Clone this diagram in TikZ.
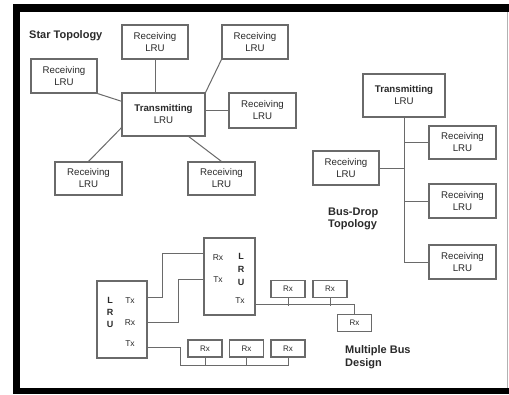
\documentclass[tikz,border=0pt]{standalone}
\usepackage{fontspec}
\setmainfont{Liberation Sans}
\usetikzlibrary{calc}
\definecolor{linegray}{HTML}{6A6A6A}
\definecolor{txtgray}{HTML}{2A2A2A}
\begin{document}
\begin{tikzpicture}[x=1pt,y=-1pt,
  box/.style={draw=linegray,line width=1.1pt,inner sep=0pt,align=center,text=txtgray,font=\fontsize{9.7}{12}\selectfont},
  rbox/.style={box,minimum width=66pt,minimum height=34pt},
  rxbox/.style={box,minimum width=34pt,minimum height=17pt,font=\fontsize{8}{9}\selectfont},
  lrubox/.style={draw=linegray,line width=1.1pt,inner sep=0pt},
  wire/.style={draw=linegray,line width=1pt},
  title/.style={font=\bfseries\fontsize{11}{12.5}\selectfont,text=txtgray,inner sep=0pt,align=left},
  lbl/.style={font=\fontsize{8.5}{9}\selectfont,text=txtgray,inner sep=0pt},
  lbold/.style={font=\bfseries\fontsize{9}{9}\selectfont,text=txtgray,inner sep=0pt}]
\useasboundingbox (0,0) rectangle (509,394);
% frame
\fill[white] (0,0) rectangle (509,394);
\fill[black] (13,4) rectangle (509,12);
\fill[black] (13,4) rectangle (20,394);
\fill[black] (13,388) rectangle (509,394);
\draw[gray!60,line width=1pt] (507,12) -- (507,388);

% ---------------- Star topology
\node[title,anchor=west] (st) at (29,36) {Star Topology};
\node[box,minimum width=83pt,minimum height=43pt] (tx) at (163.5,114.5) {\textbf{Transmitting}\\LRU};
\node[rbox] (r1) at (155,42) {Receiving\\LRU};
\node[rbox] (r2) at (255,42) {Receiving\\LRU};
\node[rbox] (r3) at (64,76) {Receiving\\LRU};
\node[rbox,minimum width=67pt,minimum height=35pt] (r4) at (262.5,110.5) {Receiving\\LRU};
\node[rbox,minimum width=67pt,minimum height=33pt] (r5) at (88.5,178.5) {Receiving\\LRU};
\node[rbox,minimum width=67pt,minimum height=33pt] (r6) at (221.5,178.5) {Receiving\\LRU};
\draw[wire] (r1.south) -- (r1.south |- tx.north);
\draw[wire] (r2.south west) -- (tx.north east);
\draw[wire] (r3.south east) -- ($(tx.north west)!0.2!(tx.south west)$);
\draw[wire] (r4.west) -- (tx.east |- r4.west);
\draw[wire] ($(tx.north west)!0.8!(tx.south west)$) -- (r5.north);
\draw[wire] ($(tx.south west)!0.8!(tx.south east)$) -- (r6.north);

% ---------------- Bus-drop topology
\node[box,minimum width=82pt,minimum height=43pt] (btx) at (404,95.5) {\textbf{Transmitting}\\LRU};
\node[rbox,minimum width=67pt,minimum height=33pt] (b1) at (462.5,142.5) {Receiving\\LRU};
\node[rbox] (b2) at (346,168) {Receiving\\LRU};
\node[rbox,minimum width=67pt] (b3) at (462.5,201) {Receiving\\LRU};
\node[rbox,minimum width=67pt] (b4) at (462.5,262) {Receiving\\LRU};
\draw[wire] (btx.south) -- (btx.south |- b4.west) -- (b4.west);
\draw[wire] (b1.west) -- (btx.south |- b1.west);
\draw[wire] (b2.east) -- (btx.south |- b2.east);
\draw[wire] (b3.west) -- (btx.south |- b3.west);
\node[title,anchor=west] (bd) at (328,219) {Bus-Drop\\Topology};

% ---------------- Multiple bus design
\node[lrubox,minimum width=50pt,minimum height=77pt] (L1) at (122,319.5) {};
\node[lbold] (l1L) at (110,300) {L};
\node[lbold] (l1R) at (110,312) {R};
\node[lbold] (l1U) at (110,324) {U};
\node[lbl] (l1t1) at (130,301) {Tx};
\node[lbl] (l1r) at (130,323) {Rx};
\node[lbl] (l1t2) at (130,344) {Tx};

\node[lrubox,minimum width=51pt,minimum height=77pt] (L2) at (229.5,276.5) {};
\node[lbl] (l2r) at (218,258) {Rx};
\node[lbl] (l2t) at (218,280) {Tx};
\node[lbold] (l2L) at (241,256) {L};
\node[lbold] (l2R) at (241,269) {R};
\node[lbold] (l2U) at (241,282) {U};
\node[lbl] (l2t2) at (240,301) {Tx};

\node[rxbox] (rxA) at (205,348.5) {Rx};
\node[rxbox] (rxB) at (246.5,348.5) {Rx};
\node[rxbox] (rxC) at (288,348.5) {Rx};
\node[rxbox] (rxD) at (288,289) {Rx};
\node[rxbox] (rxE) at (330,289) {Rx};
\node[rxbox] (rxF) at (354.5,323) {Rx};

\draw[wire] ($(L1.north east)+(0,17)$) -| ($(L2.north west)+(-41,16)$) -- ($(L2.north west)+(0,16)$);
\draw[wire] ($(L1.north east)+(0,42)$) -| ($(L2.north west)+(-25,42)$) -- ($(L2.north west)+(0,42)$);
\draw[wire] ($(L1.north east)+(0,67)$) -| ($(rxA.south)+(-25,8)$) -| (rxC.south);
\draw[wire] (rxA.south) -- ++(0,8);
\draw[wire] (rxB.south) -- ++(0,8);
\draw[wire] ($(L2.north east)+(0,67)$) -| (rxF.north);
\draw[wire] (rxD.south) -- ++(0,8);
\draw[wire] (rxE.south) -- ++(0,8);
\node[title,anchor=west] (mb) at (345,357) {Multiple Bus\\Design};
\end{tikzpicture}
\end{document}
